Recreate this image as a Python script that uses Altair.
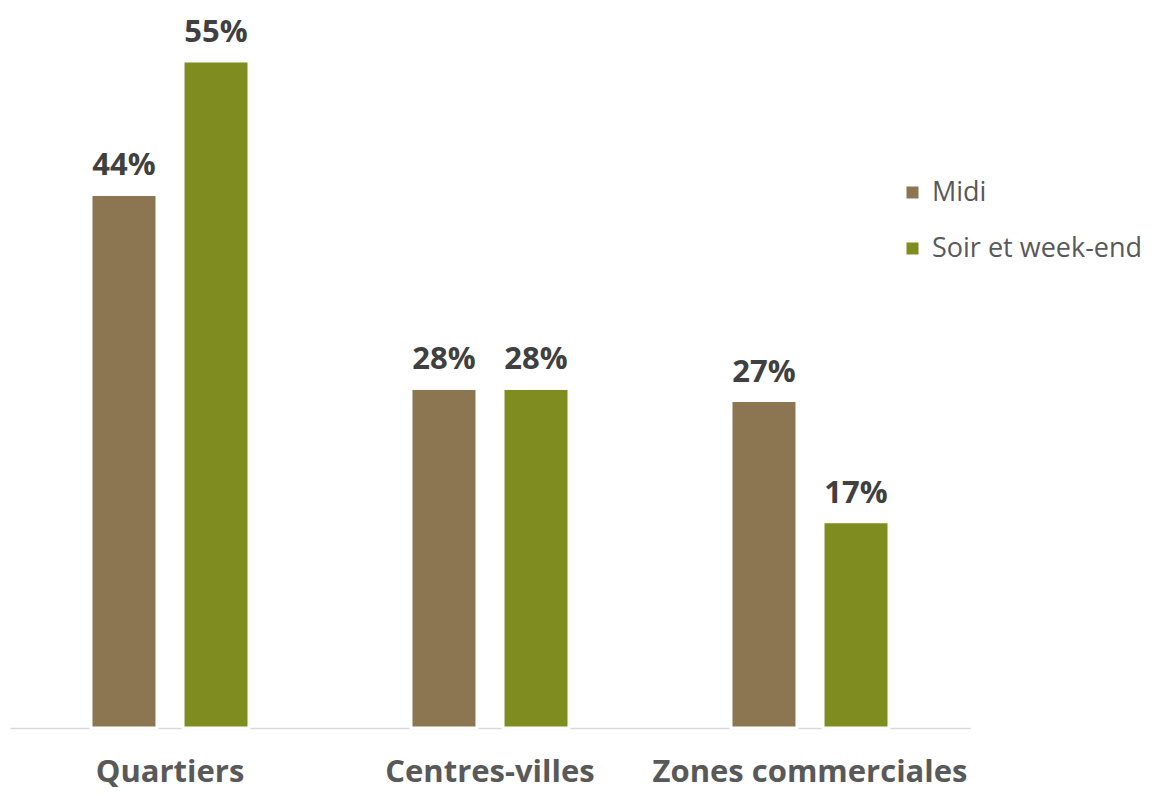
import altair as alt
import pandas as pd

categories = ["Quartiers", "Centres-villes", "Zones commerciales"]
series = ["Midi", "Soir et week-end"]
midi = [44, 28, 27]
soir = [55, 28, 17]

rows = []
for i, c in enumerate(categories):
    rows.append({"cat": c, "serie": series[0], "val": midi[i], "lab": f"{midi[i]}%"})
    rows.append({"cat": c, "serie": series[1], "val": soir[i], "lab": f"{soir[i]}%"})
df = pd.DataFrame(rows)

FONT = "Open Sans"
colors = ["#8B7651", "#7F8C20"]

x = alt.X("cat:N", sort=categories, title=None,
          scale=alt.Scale(paddingInner=0, paddingOuter=0),
          axis=alt.Axis(labelFont=FONT, labelFontSize=31, labelFontWeight="bold",
                        labelColor="#595959", labelPadding=29, ticks=False, labelLimit=0,
                        domainColor="#D9D9D9", domainWidth=1.5, labelAngle=0))
xo = alt.XOffset("serie:N", sort=series,
                 scale=alt.Scale(paddingInner=0.283, paddingOuter=0.88))
y = alt.Y("val:Q", scale=alt.Scale(domain=[0, 55], nice=False), axis=None)

base = alt.Chart(df).encode(x=x, xOffset=xo, y=y)

shadow = base.mark_bar(color="#8C8C8C", opacity=0.45, xOffset=5, yOffset=1)
bars = base.mark_bar(stroke="white", strokeWidth=3).encode(
    color=alt.Color("serie:N", sort=series,
                    scale=alt.Scale(domain=series, range=colors),
                    legend=alt.Legend(title=None, orient="none", legendX=889, legendY=118,
                                      symbolType="square", symbolSize=144,
                                      symbolStrokeWidth=0, labelLimit=0,
                                      labelFont=FONT, labelFontSize=27,
                                      labelColor="#595959", rowPadding=28,
                                      labelOffset=6)))
labels = base.mark_text(font=FONT, fontSize=31, fontWeight="bold", color="#404040",
                        baseline="alphabetic", dy=-19).encode(text="lab:N")

chart = alt.layer(shadow, bars, labels).properties(
    width=960, height=667,
    padding={"left": 2, "top": 53, "right": 175, "bottom": 66},
    autosize=alt.AutoSizeParams(type="none"),
    background="white",
).configure_view(strokeWidth=0, stroke=None)

chart.save("out.html", embed_options={"renderer": "svg", "actions": False})
